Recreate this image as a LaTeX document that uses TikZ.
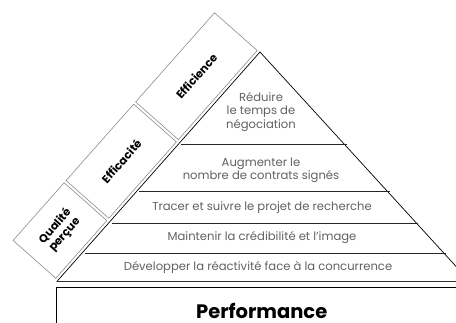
\documentclass[tikz,border=0pt]{standalone}
\usepackage{fontspec}
\setmainfont{Poppins}
\usetikzlibrary{calc,positioning}

\begin{document}
\begin{tikzpicture}[x=1pt,y=1pt,
  layer/.style={text=black!62,font=\fontsize{11.6}{13.3}\selectfont,align=center,inner sep=1pt},
  sidebox/.style={draw=black!45,line width=0.6pt,minimum height=57pt,inner sep=0pt,
    font=\fontsize{11.2}{12.5}\selectfont\bfseries,align=center}]
\useasboundingbox (0,0) rectangle (456,323);

% Pyramid corners
\coordinate (L) at (56.7,41.3);
\coordinate (A) at (260,271);
\coordinate (R) at (470,41.3);

% Pyramid
\draw[line width=0.7pt] (L) -- (A) -- (R);
\draw[black!80,line width=1.1pt] (L) -- (480,41.3);
\foreach \t in {0.125,0.2556,0.392,0.597}
  \draw[black!85,line width=0.9pt] ($(L)!\t!(A)+(3,0)$) -- ($(R)!\t!(A)+(2,0)$);

% Layers
\node[layer] (l1) at (258,56) {Développer la réactivité face à la concurrence};
\node[layer] (l2) at (262,85) {Maintenir la crédibilité et l’image};
\node[layer] (l3) at (262,115.5) {Tracer et suivre le projet de recherche};
\node[layer] (l4) at (261,153) {Augmenter le\\nombre de contrats signés};
\node[layer] (l5) at (261,211) {Réduire\\le temps de\\négociation};

% Side boxes
\begin{scope}[shift={(L)},rotate=48.5,transform shape]
\node[sidebox,minimum width=77pt] (qual) at (40.5,31.5) {Qualité\\perçue};
\node[sidebox,minimum width=102pt] (effa) at (133,31.5) {Efficacité};
\node[sidebox,minimum width=119pt] (effi) at (246.5,31.5) {Efficience};
\end{scope}

% Performance
\draw[line width=0.9pt] (56.7,-20) rectangle (480,36);
\node[font=\fontsize{19.5}{22}\selectfont\bfseries,inner sep=0pt] (perf) at (261.7,12) {Performance};

\end{tikzpicture}
\end{document}
